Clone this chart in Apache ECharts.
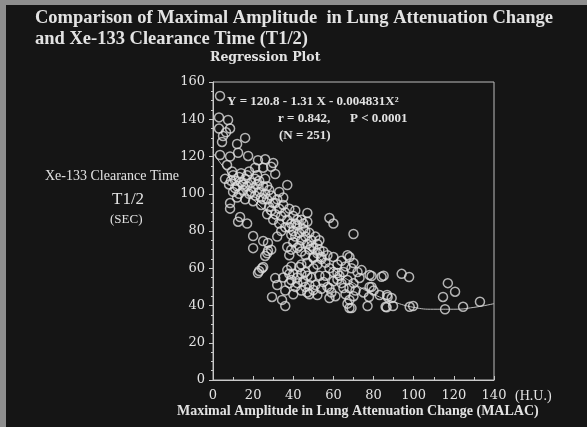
<!DOCTYPE html>
<html>
<head>
<meta charset="utf-8">
<script src="https://cdn.jsdelivr.net/npm/echarts@6/dist/echarts.min.js"></script>
<style>
  html, body { margin: 0; padding: 0; background: #151515; }
  #chart { width: 587px; height: 427px; }
</style>
</head>
<body>
<div id="chart"></div>
<script>
// MALAC (H.U.) vs T1/2 (sec)
const scatterPoints = [
  [3.5, 152.5], [3, 141], [7.5, 139.6], [3, 135], [6.5, 133], [8.5, 135], [5, 131], [4.5, 127.8],
  [12, 126.7], [16, 130], [3.5, 120.8], [8.5, 120], [12.5, 122], [17.5, 120.3], [22.4, 118], [30, 116.5],
  [25, 114], [21, 114], [7, 115.4], [9.5, 112], [31, 110.6], [37, 104.7], [26, 118.5], [29, 114.5],
  [6, 108], [8, 105], [10, 110], [11, 107], [12, 104], [13, 109], [14, 106], [15, 102],
  [16, 108], [17, 104], [18, 100], [19, 106], [20, 103], [21, 99], [22, 105], [23, 101],
  [24, 98], [25, 104], [26, 100], [27, 97], [28, 102], [29, 99], [30, 95], [14, 111],
  [18, 112], [22, 110], [26, 108], [10, 101], [12, 98], [16, 97], [20, 96], [24, 94],
  [28, 93], [32, 97], [33, 101], [35, 98], [8.5, 95], [8.5, 92], [13.5, 87.5], [17, 84], [12.5, 85],
  [29, 91], [31, 89], [33, 92], [34, 88], [36, 90], [37, 86], [38, 92], [40, 88],
  [35, 94], [31, 95], [39, 84], [41, 91], [42, 86], [27, 89], [30, 86],
  [20, 77.3], [25, 74.6], [27.4, 73.6], [32, 77], [20, 70.8], [27.4, 69.4], [29, 70], [26, 66.6],
  [27, 68], [37, 71.4], [38, 67], [25, 60.7], [22.4, 57.4], [23, 58.5], [31, 54.7], [32, 51],
  [29.4, 44.6], [34.4, 43], [36, 39.7], [24.4, 60],
  [47, 89.7], [47, 85], [58, 87], [60, 84], [70, 78.4],
  [38, 82], [40, 80], [41, 77], [42, 83], [43, 79], [44, 75], [45, 81], [46, 77],
  [47, 73], [48, 79], [49, 75], [50, 71], [51, 77], [52, 73], [40, 74], [42, 71],
  [44, 69], [46, 67], [48, 70], [50, 66], [52, 68], [54, 65], [53, 75], [45, 84],
  [39, 78], [43, 72], [47, 63], [50, 65.5],
  [54, 66], [57, 67], [60, 66], [67, 67], [68, 66], [70, 62.8], [69, 60], [62, 62],
  [64, 64], [58, 60], [56, 63], [60, 58], [62, 57.4], [65, 58], [66, 61], [72, 58],
  [35, 55], [37, 59], [38, 52], [39, 53.7], [40, 57], [41, 50], [42, 55], [43, 60.7],
  [44, 48], [45, 53], [46, 58], [47, 47], [48, 51], [49, 55], [50, 48.3], [51, 51],
  [52, 45.6], [53, 56], [55, 52.6], [36, 48], [40, 46], [44, 62], [39, 61], [38, 57],
  [57, 50], [58, 49.4], [59, 47], [62, 54], [65, 49.4], [67, 53.7], [68, 49.4], [68, 43],
  [69, 38.6], [68, 38.7], [66, 46], [70, 45], [67, 41], [70, 52], [64, 52], [63, 56], [60, 53],
  [73, 54.8], [74, 59], [78, 56.4], [79, 55.8], [84, 55.4], [85, 56], [78, 50], [79, 50],
  [83, 45.6], [86.7, 45.6], [87, 44.6], [89, 44], [86.5, 39], [86, 39.3], [89.7, 39.7], [77, 39.7],
  [77.7, 44.6], [94, 57], [97.7, 55.3], [98, 39.3], [99.7, 39.7], [80, 48], [75, 47],
  [117, 52], [120.6, 47.4], [114.6, 44.6], [115.6, 38], [124.6, 39.3], [133, 42],
  [11, 103], [15, 105], [19, 101], [23, 107], [27, 104], [9, 107], [13, 100], [17, 110],
  [21, 108], [25, 97], [36, 82], [41, 84], [44, 86], [46, 80], [49, 72], [53, 70],
  [55, 69], [39, 70], [34, 80], [33, 84], [44, 57], [47, 56], [50, 60], [52, 62],
  [56, 56], [42, 52], [46, 50], [48, 46], [54, 49], [58, 44], [61, 45], [71, 48]
];

// fitted curve as drawn on the plot
const curveX = [0, 10, 20, 30, 40, 50, 60, 70, 80, 90, 100, 110, 120, 130, 140];
const curveY = [122, 108, 97, 87, 77, 68, 59, 52, 46, 42, 39, 38, 38, 39, 41];

const titleLines = [
  'Comparison of Maximal Amplitude  in Lung Attenuation Change',
  'and Xe-133 Clearance Time (T1/2)'
];
const equationText = 'Y = 120.8 - 1.31 X - 0.004831X²';
const statsR = 'r = 0.842,';
const statsP = 'P < 0.0001';
const statsN = '(N = 251)';

const fg = '#e2e2e2';
const serif = 'Liberation Serif';

const chart = echarts.init(document.getElementById('chart'));

chart.setOption({
  backgroundColor: '#151515',
  animation: false,
  title: [{
    text: titleLines.join('\n'),
    left: 35,
    top: 8,
    padding: 0,
    textStyle: { color: fg, fontFamily: serif, fontWeight: 'bold', fontSize: 18.5, lineHeight: 21 }
  }, {
    text: 'Regression Plot',
    left: 210,
    top: 51,
    padding: 0,
    textStyle: { color: fg, fontFamily: 'DejaVu Serif', fontWeight: 'bold', fontSize: 12.5 }
  }],
  grid: {
    left: 213,
    right: 93,
    top: 82,
    bottom: 47,
    show: true,
    borderColor: '#bdbdbd',
    borderWidth: 1
  },
  xAxis: {
    type: 'value',
    min: 0,
    max: 140,
    interval: 20,
    axisLine: { lineStyle: { color: '#c8c8c8' } },
    axisTick: { inside: true, length: 4, lineStyle: { color: '#c8c8c8' } },
    minorTick: { show: true, splitNumber: 2, length: 3, lineStyle: { color: '#c8c8c8' } },
    axisLabel: { color: fg, fontFamily: 'DejaVu Serif', fontSize: 13, margin: 9 },
    splitLine: { show: false }
  },
  yAxis: {
    type: 'value',
    min: 0,
    max: 160,
    interval: 20,
    axisLine: { lineStyle: { color: '#c8c8c8' } },
    axisTick: { length: 4, lineStyle: { color: '#c8c8c8' } },
    minorTick: { show: true, splitNumber: 4, length: 2, lineStyle: { color: '#c8c8c8' } },
    axisLabel: { color: fg, fontFamily: 'DejaVu Serif', fontSize: 13, margin: 8 },
    splitLine: { show: false }
  },
  graphic: [
    { type: 'rect', left: 0, top: 0, shape: { width: 6, height: 427 }, style: { fill: '#8e8e8e' } },
    { type: 'rect', left: 0, top: 0, shape: { width: 587, height: 5 }, style: { fill: '#8e8e8e' } },
    { type: 'text', left: 227, top: 95, style: { text: equationText, fill: fg, font: 'bold 13px "Liberation Serif"' } },
    { type: 'text', left: 278, top: 112, style: { text: statsR, fill: fg, font: 'bold 13px "Liberation Serif"' } },
    { type: 'text', left: 350, top: 112, style: { text: statsP, fill: fg, font: 'bold 13px "Liberation Serif"' } },
    { type: 'text', left: 279, top: 129, style: { text: statsN, fill: fg, font: 'bold 13px "Liberation Serif"' } },
    { type: 'text', left: 45, top: 169, style: { text: 'Xe-133 Clearance Time', fill: fg, font: '14px "Liberation Serif"' } },
    { type: 'text', left: 112, top: 191, style: { text: 'T1/2', fill: fg, font: '17px "Liberation Serif"' } },
    { type: 'text', left: 110, top: 213, style: { text: '(SEC)', fill: fg, font: '13px "Liberation Serif"' } },
    { type: 'text', left: 515, top: 389, style: { text: '(H.U.)', fill: fg, font: '14px "Liberation Serif"' } },
    { type: 'text', left: 177, top: 404, style: { text: 'Maximal Amplitude in Lung Attenuation Change (MALAC)', fill: fg, font: 'bold 14px "Liberation Serif"' } }
  ],
  series: [{
    type: 'line',
    data: curveX.map((x, i) => [x, curveY[i]]),
    smooth: true,
    showSymbol: false,
    lineStyle: { color: '#bdbdbd', width: 1 },
    z: 2
  }, {
    type: 'scatter',
    data: scatterPoints,
    symbol: 'circle',
    symbolSize: 9,
    itemStyle: { color: 'rgba(0,0,0,0)', borderColor: '#dcdcdc', borderWidth: 1.5 },
    z: 3
  }]
});
</script>
</body>
</html>
